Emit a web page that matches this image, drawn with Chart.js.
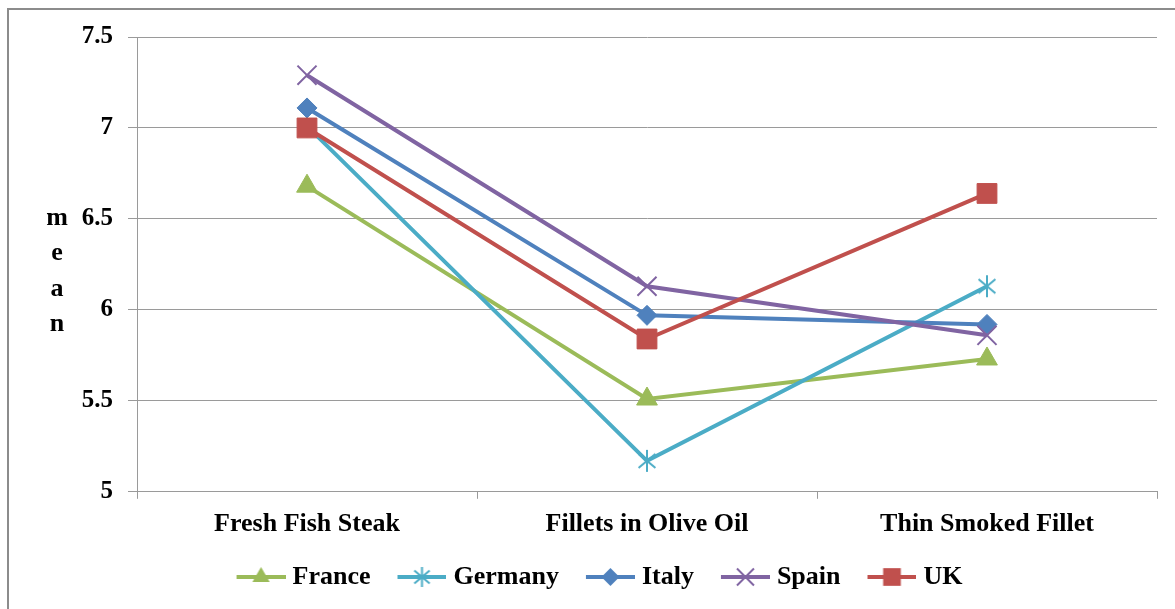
<!DOCTYPE html>
<html>
<head>
<meta charset="utf-8">
<script src="https://cdn.jsdelivr.net/npm/chart.js@4"></script>
<style>
  html, body { margin: 0; padding: 0; background: #fff; }
  #wrap { width: 1175px; height: 609px; }
</style>
</head>
<body>
<div id="wrap"><canvas id="c" width="1175" height="609"></canvas></div>
<script>
// Mean ratings per product, by country
const categories = ['Fresh Fish Steak', 'Fillets in Olive Oil', 'Thin Smoked Fillet'];
const countries = ['France', 'Germany', 'Italy', 'Spain', 'UK'];
const france  = [6.68, 5.51, 5.73];
const germany = [7.01, 5.17, 6.13];
const italy   = [7.11, 5.97, 5.92];
const spain   = [7.29, 6.13, 5.86];
const uk      = [7.00, 5.84, 6.64];
const yTicks  = [5, 5.5, 6, 6.5, 7, 7.5];
const axisTitle = 'mean';

const FONT = '"Liberation Serif", "Times New Roman", serif';
const colors = ['#9BBB59', '#4BACC6', '#4F81BD', '#8064A2', '#C0504D'];
const markers = ['triangle', 'asterisk', 'rectRot', 'crossRot', 'rect'];

// Draws one marker shape on a 2d context
function drawMarker(g, kind, x, y, r, color) {
  g.save();
  g.fillStyle = color;
  g.strokeStyle = color;
  g.beginPath();
  if (kind === 'triangle') {
    g.moveTo(x, y - r);
    g.lineTo(x + r * 0.866, y + r * 0.5);
    g.lineTo(x - r * 0.866, y + r * 0.5);
    g.closePath();
    g.fill();
  } else if (kind === 'rectRot') {
    g.moveTo(x - r, y); g.lineTo(x, y - r); g.lineTo(x + r, y); g.lineTo(x, y + r);
    g.closePath();
    g.fill();
  } else if (kind === 'rect') {
    const s = r * Math.SQRT1_2;
    g.rect(x - s, y - s, 2 * s, 2 * s);
    g.fill();
  } else if (kind === 'crossRot') {
    const s = r * Math.SQRT1_2;
    g.lineWidth = 2;
    g.moveTo(x - s, y - s); g.lineTo(x + s, y + s);
    g.moveTo(x - s, y + s); g.lineTo(x + s, y - s);
    g.stroke();
  } else if (kind === 'asterisk') {
    g.lineWidth = 2;
    for (const a of [90, 40, 140]) {
      const dx = Math.cos(a * Math.PI / 180) * r, dy = Math.sin(a * Math.PI / 180) * r;
      g.moveTo(x - dx, y - dy); g.lineTo(x + dx, y + dy);
    }
    g.stroke();
  }
  g.restore();
}

// Six-armed star used for the Germany points
function asteriskImage(r, color) {
  const c = document.createElement('canvas');
  c.width = c.height = Math.ceil(2 * r + 4);
  drawMarker(c.getContext('2d'), 'asterisk', c.width / 2, c.height / 2, r, color);
  return c;
}

// Legend swatch: short line with the series marker in the middle
function legendImage(i) {
  const c = document.createElement('canvas');
  c.width = 72; c.height = 26;
  const g = c.getContext('2d');
  g.strokeStyle = colors[i];
  g.lineWidth = 4;
  g.beginPath(); g.moveTo(23, 13); g.lineTo(72, 13); g.stroke();
  const r = { triangle: 10, asterisk: 10, rectRot: 9, crossRot: 12, rect: 12.5 }[markers[i]];
  drawMarker(g, markers[i], 47.5, 13, r, colors[i]);
  return c;
}
const legendImgs = countries.map((_, i) => legendImage(i));

const frame = {
  id: 'frame',
  beforeDraw(chart) {
    const g = chart.ctx;
    g.save();
    g.fillStyle = '#fff';
    g.fillRect(0, 0, chart.width, chart.height);
    g.strokeStyle = '#8c8c8c';
    g.lineWidth = 2;
    g.beginPath();
    g.moveTo(8, chart.height + 4);
    g.lineTo(8, 9);
    g.lineTo(chart.width + 4, 9);
    g.stroke();
    g.restore();
  }
};

// Stacked letters of the value-axis title
const stackedTitle = {
  id: 'stackedTitle',
  afterDraw(chart) {
    const g = chart.ctx, a = chart.chartArea;
    const step = 35.5;
    const mid = (a.top + a.bottom) / 2 + 7;
    const letters = axisTitle.split('');
    g.save();
    g.font = 'bold 26px ' + FONT;
    g.fillStyle = '#000';
    g.textAlign = 'center';
    g.textBaseline = 'middle';
    letters.forEach((ch, k) => {
      g.fillText(ch, a.left - 80, mid + (k - (letters.length - 1) / 2) * step);
    });
    g.restore();
  }
};

const series = [france, germany, italy, spain, uk];
const pointStyles = [
  { pointStyle: 'triangle', pointRadius: 12 },
  { pointStyle: asteriskImage(11, colors[1]), pointRadius: 11 },
  { pointStyle: 'rectRot', pointRadius: 10 },
  { pointStyle: 'crossRot', pointRadius: 13.5, pointBorderWidth: 2 },
  { pointStyle: 'rect', pointRadius: 14 }
];

const datasets = countries.map((name, i) => Object.assign({
  label: name,
  data: series[i],
  borderColor: colors[i],
  backgroundColor: colors[i],
  pointBackgroundColor: colors[i],
  pointBorderColor: colors[i],
  pointBorderWidth: 1,
  borderWidth: 4,
  tension: 0,
  fill: false,
  order: countries.length - 1 - i
}, pointStyles[i]));

new Chart(document.getElementById('c'), {
  type: 'line',
  data: { labels: categories, datasets },
  options: {
    responsive: false,
    animation: false,
    events: [],
    layout: { padding: { left: 25, right: 18, top: 37, bottom: 9 } },
    scales: {
      x: {
        type: 'category',
        offset: true,
        grid: { offset: true, drawOnChartArea: false, drawTicks: true, tickLength: 7, color: '#9a9a9a' },
        border: { color: '#9a9a9a' },
        ticks: { font: { family: FONT, size: 26, weight: 'bold' }, color: '#000', padding: 10, maxRotation: 0, autoSkip: false },
        afterFit: s => { s.height += 4; }
      },
      y: {
        min: 5,
        max: 7.5,
        afterBuildTicks: s => { s.ticks = yTicks.map(v => ({ value: v })); },
        grid: { color: '#9a9a9a', tickLength: 9 },
        border: { color: '#9a9a9a' },
        ticks: { font: { family: FONT, size: 25, weight: 'bold' }, color: '#000', padding: 15, callback: v => String(v) },
        afterFit: s => { s.width = 112; }
      }
    },
    plugins: {
      legend: {
        position: 'bottom',
        labels: {
          usePointStyle: true,
          pointStyleWidth: 60,
          boxHeight: 26,
          padding: 10,
          color: '#000',
          font: { family: FONT, size: 26, weight: 'bold' },
          generateLabels: chart => chart.data.datasets.map((ds, i) => ({
            text: ds.label,
            pointStyle: legendImgs[i],
            fillStyle: 'rgba(0,0,0,0)',
            strokeStyle: 'rgba(0,0,0,0)',
            lineWidth: 0,
            hidden: false,
            datasetIndex: i,
            fontColor: '#000'
          }))
        }
      },
      tooltip: { enabled: false }
    }
  },
  plugins: [frame, stackedTitle]
});
</script>
</body>
</html>
